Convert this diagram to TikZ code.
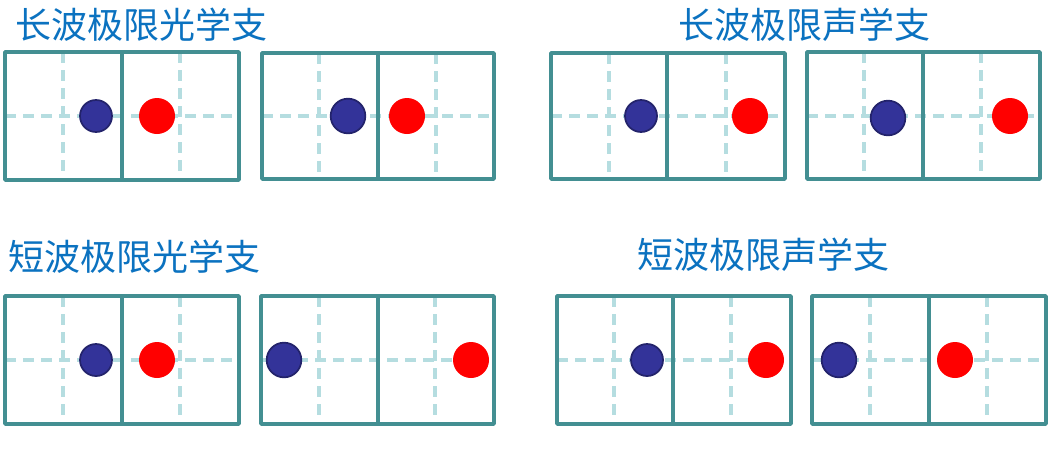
\documentclass[tikz,border=0pt]{standalone}
\usepackage{fontspec}
\newfontfamily\cjk{Noto Sans CJK SC}
\definecolor{boxc}{HTML}{438F92}
\definecolor{dashc}{HTML}{B5DDE0}
\definecolor{bluec}{HTML}{333399}
\definecolor{blueb}{HTML}{23236B}
\definecolor{redc}{HTML}{FF0000}
\definecolor{titc}{HTML}{0B72C0}
\tikzset{
  frame/.style={draw=boxc, line width=2.7pt, line join=round},
  guide/.style={draw=dashc, line width=2.8pt, dash pattern=on 8pt off 5.5pt},
  bdot/.style={circle, fill=bluec, draw=blueb, line width=1.3pt, inner sep=0pt},
  rdot/.style={circle, fill=redc, inner sep=0pt},
  title/.style={text=titc, font=\cjk\fontsize{27}{30}\selectfont, inner sep=0pt}
}
% #1 left #2 mid #3 right #4 top #5 bottom #6 v1 #7 v2 #8 hy
\newcommand\twocell[8]{%
  \draw[guide] (#1,#8) -- (#3,#8);
  \draw[guide] (#6,#4) -- (#6,#5);
  \draw[guide] (#7,#4) -- (#7,#5);
  \draw[frame] (#1,#4) rectangle (#3,#5);
  \draw[frame] (#2,#4) -- (#2,#5);
}
\begin{document}
\begin{tikzpicture}[x=0.75pt, y=-0.75pt]
\useasboundingbox (0,0) rectangle (1063,468);
% titles
\node[title] (t1) at (142,25) {长波极限光学支};
\node[title] (t2) at (804,25) {长波极限声学支};
\node[title] (t3) at (134,257) {短波极限光学支};
\node[title] (t4) at (763,255) {短波极限声学支};
% boxes
\twocell{5}{122}{239}{52}{180}{63}{180}{116}
\twocell{262}{378}{494}{53}{179}{319}{436}{116}
\twocell{551}{667}{785}{53}{179}{609}{726}{116}
\twocell{807}{923}{1040}{52}{179}{864}{981}{116}
\twocell{5}{122}{239}{296}{424}{63}{180}{360}
\twocell{261}{378}{494}{296}{424}{319}{435}{360}
\twocell{557}{673}{791}{296}{424}{614}{731}{360}
\twocell{812}{929}{1046}{296}{424}{870}{987}{360}
% dots
\node[bdot, minimum size=24pt] (b1) at (96,116) {};
\node[rdot, minimum size=27pt] (r1) at (157,116) {};
\node[bdot, minimum size=26pt] (b2) at (348,116) {};
\node[rdot, minimum size=27pt] (r2) at (407,116) {};
\node[bdot, minimum size=24pt] (b3) at (641,116) {};
\node[rdot, minimum size=27pt] (r3) at (750,116) {};
\node[bdot, minimum size=26pt] (b4) at (888,118) {};
\node[rdot, minimum size=27pt] (r4) at (1010,116) {};
\node[bdot, minimum size=24pt] (b5) at (96,360) {};
\node[rdot, minimum size=27pt] (r5) at (157,360) {};
\node[bdot, minimum size=26pt] (b6) at (284,360) {};
\node[rdot, minimum size=27pt] (r6) at (471,360) {};
\node[bdot, minimum size=24pt] (b7) at (647,360) {};
\node[rdot, minimum size=27pt] (r7) at (766,360) {};
\node[bdot, minimum size=26pt] (b8) at (839,360) {};
\node[rdot, minimum size=27pt] (r8) at (955,360) {};
\end{tikzpicture}
\end{document}
